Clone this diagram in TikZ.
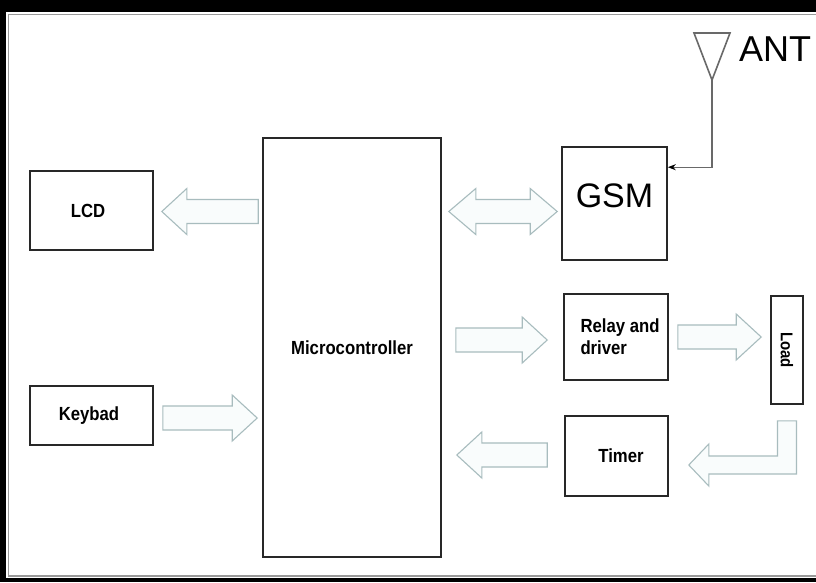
\documentclass[tikz,border=0pt]{standalone}
\usepackage{fontspec}
\setmainfont{Liberation Sans}
\newfontfamily\lblfont[FakeStretch=0.88]{Liberation Sans}
\usetikzlibrary{calc,arrows.meta}

\definecolor{arrowline}{RGB}{168,188,190}
\definecolor{arrowfill}{RGB}{249,252,252}
\definecolor{boxline}{RGB}{40,40,40}
\definecolor{antline}{RGB}{105,105,105}

\tikzset{
  box/.style={draw=boxline, line width=1.6pt, inner sep=0pt, fill=white,
    font=\lblfont\bfseries\fontsize{19}{22}\selectfont},
  blockarrow/.style={draw=arrowline, fill=arrowfill, line width=1.1pt, line join=miter},
}

% horizontal block arrow: tail, tip
\newcommand{\harrow}[2]{%
  \draw[blockarrow] let \p1=(#1), \p2=(#2), \n1={ifthenelse(\x1>\x2,1,-1)} in
    (\x1,{\y1+12pt}) -- ({\x2+(\n1)*25pt},{\y1+12pt}) -- ({\x2+(\n1)*25pt},{\y1+23pt})
    -- (\x2,\y1) -- ({\x2+(\n1)*25pt},{\y1-23pt}) -- ({\x2+(\n1)*25pt},{\y1-12pt})
    -- (\x1,{\y1-12pt}) -- cycle;}
% two-headed block arrow: left tip, right tip
\newcommand{\dblarrow}[2]{%
  \draw[blockarrow] let \p1=(#1), \p2=(#2) in
    (\x1,\y1) -- ({\x1+27pt},{\y1+23pt}) -- ({\x1+27pt},{\y1+12pt}) -- ({\x2-27pt},{\y1+12pt})
    -- ({\x2-27pt},{\y1+23pt}) -- (\x2,\y1) -- ({\x2-27pt},{\y1-23pt}) -- ({\x2-27pt},{\y1-12pt})
    -- ({\x1+27pt},{\y1-12pt}) -- ({\x1+27pt},{\y1-23pt}) -- cycle;}

\begin{document}
\begin{tikzpicture}[x=1pt,y=-1pt]
\useasboundingbox (0,0) rectangle (816,582);

% frame
\fill[black] (0,0) rectangle (816,582);
\fill[white] (6,12) rectangle (816,578);
\draw[gray!80, line width=1.2pt] (816,14.5) -- (8.5,14.5) -- (8.5,576) -- (816,576);

% blocks
\node[box, minimum width=123pt, minimum height=79pt] (lcd) at (91.5,210.5) {LCD\hspace*{7pt}};
\node[box, minimum width=123pt, minimum height=59pt] (keybad) at (91.5,415.5) {Keybad\hspace*{5pt}};
\node[box, minimum width=178pt, minimum height=419pt] (mcu) at (352,347.5) {Microcontroller};
\node[box, minimum width=105pt, minimum height=113pt, text depth=15pt,
  font=\fontsize{34}{40}\selectfont] (gsm) at (614.5,203.5) {GSM};
\node[box, minimum width=104pt, minimum height=86pt, align=left] (relay) at (616,337)
  {\hspace*{8pt}Relay and\\\hspace*{8pt}driver};
\node[box, minimum width=103pt, minimum height=80pt] (timer) at (616.5,456) {\hspace*{9pt}Timer};
\node[box, minimum width=32pt, minimum height=108pt,
  font=\lblfont\bfseries\fontsize{17}{19}\selectfont] (load) at (787,350) {\rotatebox{-90}{Load}};

% antenna
\coordinate (antapex) at (712,80);
\draw[antline, line width=1.6pt, line join=miter] (694,33) -- (730,33) -- (antapex) -- cycle;
\node[anchor=west, inner sep=0pt, font=\fontsize{36}{40}\selectfont] (ant) at (739,49) {ANT};
\draw[antline, line width=1.3pt, -{Stealth[length=8pt,width=6pt,black]}]
  (antapex) |- ($(gsm.north east)+(0,21)$);

% block arrows
\coordinate (lcdtail) at ($(mcu.west |- lcd.east)+(-4,1)$);
\coordinate (lcdtip) at ($(lcd.east)+(8,1)$);
\harrow{lcdtail}{lcdtip}

\coordinate (keytail) at ($(keybad.east)+(9,2.5)$);
\coordinate (keytip) at ($(mcu.west |- keybad.east)+(-5,2.5)$);
\harrow{keytail}{keytip}

\coordinate (gsmleft) at ($(mcu.east |- lcd.east)+(7,1)$);
\coordinate (gsmright) at ($(gsm.west |- lcd.east)+(-4,1)$);
\dblarrow{gsmleft}{gsmright}

\coordinate (relaytail) at ($(mcu.east |- relay.west)+(14,3)$);
\coordinate (relaytip) at ($(relay.west)+(-16,3)$);
\harrow{relaytail}{relaytip}

\coordinate (loadtail) at ($(relay.east)+(9,0)$);
\coordinate (loadtip) at ($(load.west |- relay.east)+(-9,0)$);
\harrow{loadtail}{loadtip}

\coordinate (timertail) at ($(timer.west)+(-17,-1)$);
\coordinate (timertip) at ($(mcu.east |- timer.west)+(15,-1)$);
\harrow{timertail}{timertip}

% load back to timer
\draw[blockarrow] let \p1=($(load.south)+(0,16)$), \p2=($(timer.east)+(20,9)$) in
  ({\x1-9.5pt},\y1) -- ({\x1+9.5pt},\y1) -- ({\x1+9.5pt},{\y2-9pt}) -- ({\x2+20pt},{\y2-9pt})
  -- ({\x2+20pt},{\y2-21pt}) -- (\x2,\y2) -- ({\x2+20pt},{\y2+21pt}) -- ({\x2+20pt},{\y2+9pt})
  -- ({\x1-9.5pt},{\y2+9pt}) -- cycle;

\end{tikzpicture}
\end{document}
